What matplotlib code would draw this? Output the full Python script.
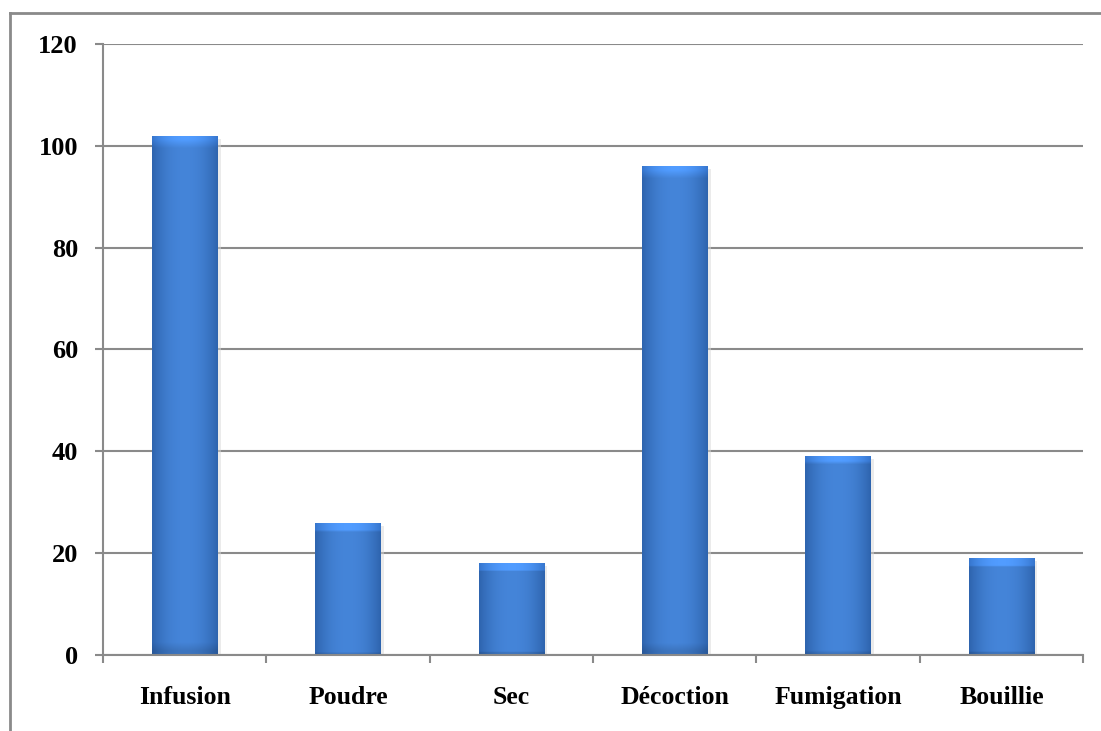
import numpy as np
import matplotlib.pyplot as plt
from matplotlib.patches import Rectangle
from matplotlib.lines import Line2D

# Modes de préparation et nombre de citations
categories = ['Infusion', 'Poudre', 'Sec', 'Décoction', 'Fumigation', 'Bouillie']
values = [102, 26, 18, 96, 39, 19]
y_ticks = [0, 20, 40, 60, 80, 100, 120]

plt.rcParams['font.family'] = ['Liberation Serif', 'DejaVu Serif']
plt.rcParams['font.weight'] = 'bold'

fig = plt.figure(figsize=(11.01, 7.31), dpi=100)
ax = fig.add_axes([0.0935, 0.104, 0.8902, 0.8358])

# Cadre gris autour du graphique (coupé à droite et en bas)
fig.add_artist(Line2D([10 / 1101, 1], [1 - 13 / 731] * 2, color='#8a8a8a', lw=2.0))
fig.add_artist(Line2D([10 / 1101] * 2, [0, 1 - 13 / 731], color='#8a8a8a', lw=2.0))

n = len(categories)
x = np.arange(n) + 0.5
width = 0.40

# Dégradé horizontal des barres : bords foncés, centre plus clair
t = np.linspace(-1, 1, 200)
shade = 1 - np.abs(t) ** 2.2
dark = np.array([0.18, 0.39, 0.68])
light = np.array([0.27, 0.52, 0.85])
row = dark + (light - dark) * shade[:, None]

for xi, v in zip(x, values):
    x0 = xi - width / 2
    # ombre légère à droite
    ax.add_patch(Rectangle((x0 + 0.02, 0), width, v - 0.6, facecolor='#d9d9d9',
                           edgecolor='none', alpha=0.5, zorder=2))
    rect = Rectangle((x0, 0), width, v, facecolor='none', edgecolor='none', zorder=3)
    ax.add_patch(rect)
    img = np.repeat(row[None, :, :], 60, axis=0)
    # biseau clair en haut, bord sombre en bas
    h_px = v * 5.09
    top = max(1, int(60 * 9 / h_px))
    img[-top:] = np.clip(img[-top:] * 1.18, 0, 1)
    bot = max(1, int(60 * 4 / h_px))
    img[:bot] = img[:bot] * 0.88
    im = ax.imshow(img, extent=[x0, x0 + width, 0, v], origin='lower',
                   aspect='auto', zorder=3, interpolation='bilinear')
    im.set_clip_path(rect)

ax.set_xlim(0, n)
ax.set_ylim(0, 120)
ax.set_yticks(y_ticks)
ax.set_yticklabels([str(v) for v in y_ticks], fontsize=19, fontweight='bold')
ax.set_xticks(np.arange(n + 1))
ax.set_xticklabels([])
ax.set_xticks(x, minor=True)
ax.set_xticklabels(categories, minor=True, fontsize=18.5, fontweight='bold')
ax.tick_params(axis='x', which='minor', length=0, pad=22)
ax.tick_params(axis='x', which='major', length=6, width=1.5, color='#8a8a8a')
ax.tick_params(axis='y', length=6, width=1.5, color='#8a8a8a', pad=12)

ax.yaxis.grid(True, color='#8a8a8a', linewidth=1.5)
ax.set_axisbelow(True)
for side in ['top', 'right']:
    ax.spines[side].set_visible(False)
for side in ['left', 'bottom']:
    ax.spines[side].set_color('#8a8a8a')
    ax.spines[side].set_linewidth(1.5)
ax.spines['bottom'].set_zorder(4)

fig.savefig('out.png', dpi=100)
